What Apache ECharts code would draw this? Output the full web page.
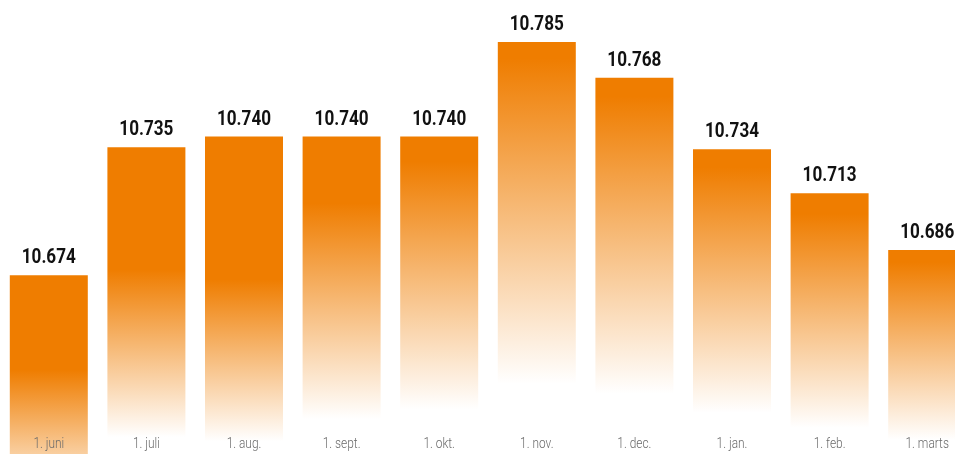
<!DOCTYPE html>
<html>
<head>
<meta charset="utf-8">
<script src="https://cdn.jsdelivr.net/npm/echarts@6/dist/echarts.min.js"></script>
<style>
  html, body { margin: 0; padding: 0; background: #ffffff; overflow: hidden; width: 955px; height: 454px; }
  #chart { width: 976px; height: 454px; }
</style>
</head>
<body>
<div id="chart"></div>
<script>
// ---- data ----
const categories = ['1. juni', '1. juli', '1. aug.', '1. sept.', '1. okt.', '1. nov.', '1. dec.', '1. jan.', '1. feb.', '1. marts'];
const values = [10.674, 10.735, 10.740, 10.740, 10.740, 10.785, 10.768, 10.734, 10.713, 10.686];

// ---- styling: per-bar fade (fraction of bar height where solid orange ends, where it reaches white) ----
const fadeSolidEnd = [0.53, 0.40, 0.45, 0.21, 0.08, 0.04, 0.05, 0.06, 0.08, 0.06];
const fadeWhiteAt  = [1.28, 0.945, 0.96, 0.89, 0.86, 0.83, 0.84, 0.865, 0.90, 0.93];

const ORANGE = [239, 125, 0];
const Y_MIN = 10.589, Y_MAX = 10.805;
function rgba(a) { return 'rgba(' + ORANGE.join(',') + ',' + a.toFixed(3) + ')'; }

function gradientFor(i) {
  const s = fadeSolidEnd[i], w = fadeWhiteAt[i];
  const stops = [
    { offset: 0, color: rgba(1) },
    { offset: s, color: rgba(1) }
  ];
  if (w > 1) {
    stops.push({ offset: 1, color: rgba(1 - (1 - s) / (w - s)) });
  } else {
    stops.push({ offset: w, color: rgba(0) });
    stops.push({ offset: 1, color: rgba(0) });
  }
  return new echarts.graphic.LinearGradient(0, 0, 0, 1, stops);
}

const seriesData = values.map((v, i) => ({
  value: v,
  itemStyle: { color: gradientFor(i) }
}));

const chart = echarts.init(document.getElementById('chart'));
chart.setOption({
  animation: false,
  backgroundColor: '#ffffff',
  grid: { left: 0, top: 0, bottom: 0, right: 0, containLabel: false },
  xAxis: {
    type: 'category',
    data: categories,
    axisLine: { show: false },
    axisTick: { show: false },
    axisLabel: { show: false }
  },
  yAxis: {
    type: 'value',
    min: Y_MIN,
    max: Y_MAX,
    show: false,
    splitLine: { show: false }
  },
  series: [{
    type: 'bar',
    data: seriesData,
    barWidth: 78
  }, {
    // value labels above bars (condensed bold)
    type: 'custom',
    data: values.map((v, i) => [i, v]),
    z: 5,
    clip: false,
    renderItem: function (params, api) {
      const p = api.coord([api.value(0), api.value(1)]);
      return {
        type: 'text',
        x: p[0],
        y: p[1] - 17,
        scaleX: 0.87,
        style: {
          text: api.value(1).toFixed(3),
          x: 0, y: 0,
          fill: '#111111',
          fontFamily: 'Roboto',
          fontWeight: 'bold',
          fontSize: 19.7,
          align: 'center',
          verticalAlign: 'middle'
        }
      };
    }
  }, {
    // category labels inside bar bottoms (condensed light)
    type: 'custom',
    data: categories.map((c, i) => [i, Y_MIN]),
    z: 5,
    clip: false,
    renderItem: function (params, api) {
      const p = api.coord([api.value(0), Y_MIN]);
      return {
        type: 'text',
        x: p[0],
        y: p[1] - 10,
        scaleX: 0.85,
        style: {
          text: categories[params.dataIndex],
          x: 0, y: 0,
          fill: '#6a6a6a',
          fontFamily: 'Roboto',
          fontWeight: 300,
          fontSize: 14,
          align: 'center',
          verticalAlign: 'middle'
        }
      };
    }
  }]
});
</script>
</body>
</html>
